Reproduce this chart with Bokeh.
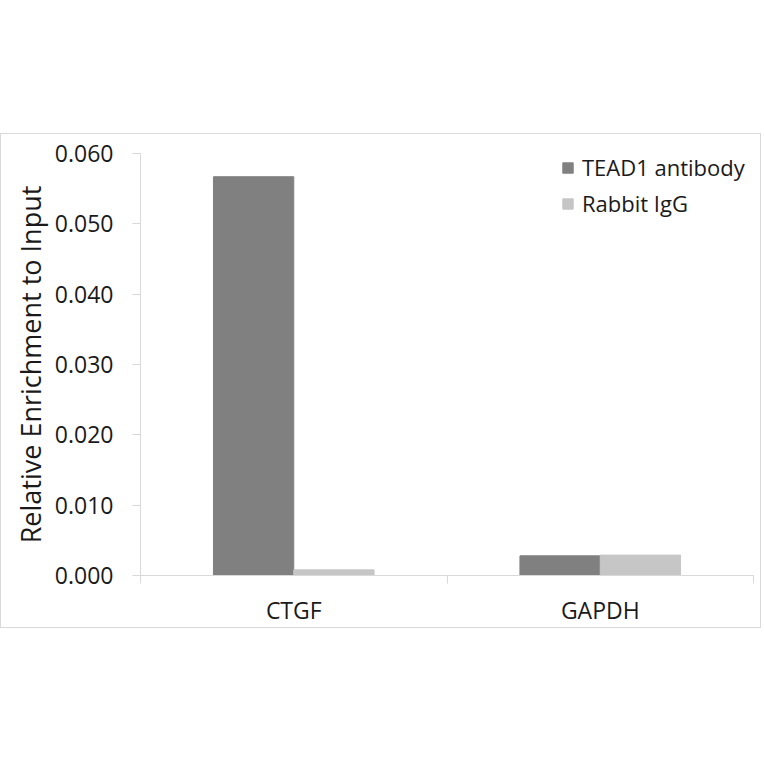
import numpy as np

from bokeh.layouts import column
from bokeh.models import ColumnDataSource, Range1d, FixedTicker, Legend, LegendItem, NumeralTickFormatter, Spacer
from bokeh.plotting import figure
from bokeh.embed import file_html
from bokeh.resources import INLINE

genes = ["CTGF", "GAPDH"]
series = ["TEAD1 antibody", "Rabbit IgG"]
tead1 = [0.0567, 0.0028]
igg = [0.0008, 0.0029]
colors = ["#808080", "#c6c6c6"]
y_ticks = [0.0, 0.01, 0.02, 0.03, 0.04, 0.05, 0.06]

FONT = "Open Sans"
TEXT = "#1a1a1a"
AXIS = "#d9d9d9"

centers = np.arange(len(genes)) + 0.5
bar_w = 0.262

p = figure(width=761, height=495, output_backend="svg", toolbar_location=None,
           tools="", x_range=Range1d(0, len(genes)), y_range=Range1d(0, 0.06),
           min_border_left=139, min_border_right=9, min_border_top=19,
           min_border_bottom=54, styles={"border": "1px solid #d9d9d9"})
p.outline_line_color = None
p.xgrid.grid_line_color = None
p.ygrid.grid_line_color = None

renderers = []
for vals, name, col, off in zip([tead1, igg], series, colors, [-bar_w / 2, bar_w / 2]):
    src = ColumnDataSource(dict(x=centers + off, top=vals))
    r = p.vbar(x="x", top="top", width=bar_w, bottom=0, source=src,
               fill_color=col, line_color=col)
    renderers.append(r)

# x axis: labels at category centres, ticks between categories
p.xaxis.ticker = FixedTicker(ticks=list(centers), minor_ticks=list(np.arange(len(genes) + 1)))
p.xaxis.major_label_overrides = {float(c): g for c, g in zip(centers, genes)}
p.xaxis.major_tick_out = 0
p.xaxis.major_tick_in = 0
p.xaxis.minor_tick_out = 8
p.xaxis.minor_tick_in = 0
p.xaxis.minor_tick_line_color = AXIS
p.xaxis.major_label_standoff = 10

p.yaxis.ticker = FixedTicker(ticks=y_ticks)
p.yaxis.formatter = NumeralTickFormatter(format="0.000")
p.yaxis.major_tick_out = 8
p.yaxis.major_tick_in = 0
p.yaxis.minor_tick_line_color = None
p.yaxis.major_label_standoff = 19
p.yaxis.axis_label = "Relative Enrichment to Input"
p.yaxis.axis_label_text_font = FONT
p.yaxis.axis_label_text_font_size = "27px"
p.yaxis.axis_label_text_font_style = "normal"
p.yaxis.axis_label_text_color = TEXT
p.yaxis.axis_label_standoff = 3

for ax in (p.xaxis, p.yaxis):
    ax.axis_line_color = AXIS
    ax.major_tick_line_color = AXIS
    ax.major_label_text_font = FONT
    ax.major_label_text_font_size = "23px"
    ax.major_label_text_color = TEXT

legend = Legend(items=[LegendItem(label=s, renderers=[r]) for s, r in zip(series, renderers)],
                location=(421, 357), border_line_color=None, background_fill_alpha=0,
                padding=0, margin=0, spacing=6, glyph_width=13, glyph_height=13,
                label_height=22, label_standoff=8,
                label_text_font=FONT, label_text_font_size="22px", label_text_color=TEXT)
p.add_layout(legend)

layout = column(Spacer(height=133), p)

open("out.html", "w").write(file_html(layout, INLINE))
